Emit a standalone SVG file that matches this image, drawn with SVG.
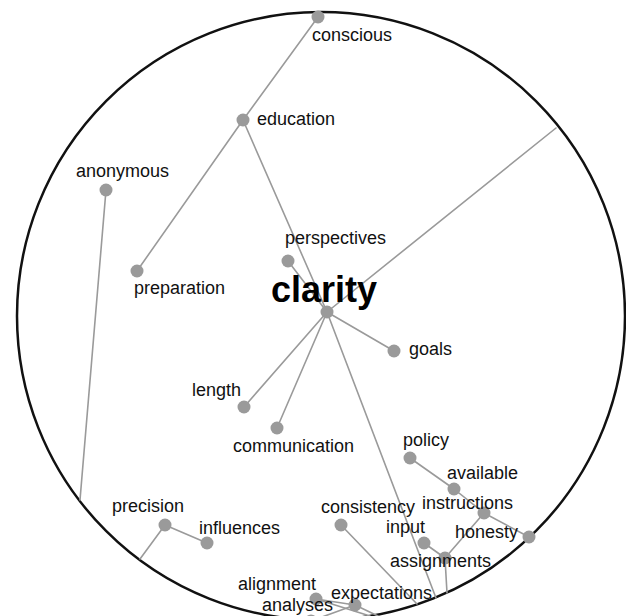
<svg xmlns="http://www.w3.org/2000/svg" width="626" height="616" viewBox="0 0 626 616">
<style>
.edge{stroke:#9a9a9a;stroke-width:1.6;fill:none;stroke-linecap:round}
.node{fill:#9a9a9a}
.label{font-family:"Liberation Sans",Arial,sans-serif;font-size:18px;fill:#111}
.title{font-family:"Liberation Sans",Arial,sans-serif;font-size:36px;font-weight:bold;fill:#000}
</style>
<rect width="626" height="616" fill="#fff"/>
<circle cx="321" cy="316" r="304" fill="none" stroke="#111" stroke-width="2.5"/>
<g id="connectors">
<line class="edge" x1="318" y1="17" x2="243" y2="120"/>
<line class="edge" x1="243" y1="120" x2="137" y2="271"/>
<line class="edge" x1="243" y1="120" x2="327" y2="312"/>
<line class="edge" x1="106" y1="190" x2="80" y2="500"/>
<line class="edge" x1="327" y1="312" x2="556" y2="128"/>
<line class="edge" x1="327" y1="312" x2="288" y2="261"/>
<line class="edge" x1="327" y1="312" x2="394" y2="351"/>
<line class="edge" x1="327" y1="312" x2="244" y2="407"/>
<line class="edge" x1="327" y1="312" x2="277" y2="428"/>
<line class="edge" x1="327" y1="312" x2="436" y2="598"/>
<line class="edge" x1="410" y1="458" x2="454" y2="489"/>
<line class="edge" x1="454" y1="489" x2="484" y2="513"/>
<line class="edge" x1="484" y1="513" x2="529" y2="537"/>
<line class="edge" x1="484" y1="513" x2="445" y2="558"/>
<line class="edge" x1="424" y1="543" x2="445" y2="558"/>
<line class="edge" x1="445" y1="558" x2="447" y2="593"/>
<line class="edge" x1="341" y1="525" x2="417" y2="604"/>
<line class="edge" x1="165" y1="525" x2="207" y2="543"/>
<line class="edge" x1="165" y1="525" x2="140" y2="559"/>
<line class="edge" x1="316" y1="599" x2="355" y2="605"/>
<line class="edge" x1="316" y1="599" x2="370" y2="616"/>
<line class="edge" x1="355" y1="605" x2="378" y2="616"/>
<line class="edge" x1="311" y1="621" x2="355" y2="605"/>
</g>
<g id="conscious"><circle class="node" cx="318" cy="17" r="6.5"/><text class="label" x="312" y="41">conscious</text></g>
<g id="education"><circle class="node" cx="243" cy="120" r="6.5"/><text class="label" x="257" y="125">education</text></g>
<g id="anonymous"><circle class="node" cx="106" cy="190" r="6.5"/><text class="label" x="76" y="177">anonymous</text></g>
<g id="preparation"><circle class="node" cx="137" cy="271" r="6.5"/><text class="label" x="134" y="294">preparation</text></g>
<g id="perspectives"><circle class="node" cx="288" cy="261" r="6.5"/><text class="label" x="285" y="244">perspectives</text></g>
<g id="clarity"><circle class="node" cx="327" cy="312" r="6.5"/><text class="title" x="271" y="302">clarity</text></g>
<g id="goals"><circle class="node" cx="394" cy="351" r="6.5"/><text class="label" x="409" y="355">goals</text></g>
<g id="length"><circle class="node" cx="244" cy="407" r="6.5"/><text class="label" x="192" y="396">length</text></g>
<g id="communication"><circle class="node" cx="277" cy="428" r="6.5"/><text class="label" x="233" y="452">communication</text></g>
<g id="policy"><circle class="node" cx="410" cy="458" r="6.5"/><text class="label" x="403" y="446">policy</text></g>
<g id="available"><circle class="node" cx="454" cy="489" r="6.5"/><text class="label" x="447" y="479">available</text></g>
<g id="instructions"><circle class="node" cx="484" cy="513" r="6.5"/><text class="label" x="422" y="509">instructions</text></g>
<g id="honesty"><circle class="node" cx="529" cy="537" r="6.5"/><text class="label" x="455" y="538">honesty</text></g>
<g id="consistency"><circle class="node" cx="341" cy="525" r="6.5"/><text class="label" x="321" y="513">consistency</text></g>
<g id="input"><circle class="node" cx="424" cy="543" r="6.5"/><text class="label" x="386" y="533">input</text></g>
<g id="assignments"><circle class="node" cx="445" cy="558" r="6.5"/><text class="label" x="390" y="567">assignments</text></g>
<g id="precision"><circle class="node" cx="165" cy="525" r="6.5"/><text class="label" x="112" y="512">precision</text></g>
<g id="influences"><circle class="node" cx="207" cy="543" r="6.5"/><text class="label" x="199" y="534">influences</text></g>
<g id="alignment"><circle class="node" cx="316" cy="599" r="6.5"/><text class="label" x="238" y="590">alignment</text></g>
<g id="expectations"><circle class="node" cx="355" cy="605" r="6.5"/><text class="label" x="331" y="599">expectations</text></g>
<g id="analyses"><circle class="node" cx="311" cy="621" r="6.5"/><text class="label" x="262" y="611">analyses</text></g>
</svg>
